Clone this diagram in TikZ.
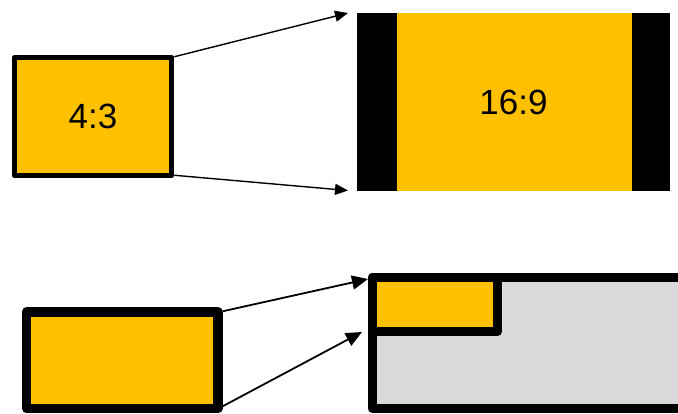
\documentclass[tikz,border=0pt]{standalone}
\usepackage{fontspec}
\setmainfont{Liberation Sans}
\usetikzlibrary{arrows.meta}
\definecolor{screen}{HTML}{FFC000}
\definecolor{pane}{HTML}{D9D9D9}

\begin{document}
\begin{tikzpicture}[x=1pt, y=-1pt,
	box/.style={draw=black, fill=screen, line join=round, inner sep=0pt, font=\fontsize{35}{40}\selectfont},
	ray/.style={line width=1.4pt, -{Triangle[length=13pt,width=11pt]}},
	bigray/.style={line width=1.8pt, -{Triangle[length=16pt,width=14pt]}}]
	\clip (0,0) rectangle (678,413);
	% top: 4:3 shown on a 16:9 screen
	\node[box, line width=5.5pt, minimum width=157pt, minimum height=118pt] (old) at (93,116.5) {4:3};
	\node[box, draw=none, minimum width=313pt, minimum height=178pt] (wide) at (513.5,102) {16:9};
	\node[fill=black, inner sep=0pt, outer sep=0pt, minimum width=40pt, minimum height=178pt, anchor=north west] (barl) at (wide.north west) {};
	\node[fill=black, inner sep=0pt, outer sep=0pt, minimum width=38pt, minimum height=178pt, anchor=north east] (barr) at (wide.north east) {};
	\coordinate (tup) at (348,13);
	\coordinate (tdown) at (348,190.5);
	\draw[ray] ([yshift=-2pt]old.north east) -- (tup);
	\draw[ray] ([yshift=3pt]old.south east) -- (tdown);
	% bottom: strip placed in the corner of a larger pane
	\node[box, line width=9.5pt, minimum width=191.5pt, minimum height=96.5pt] (strip) at (122.25,360.25) {};
	\draw[fill=pane, line width=9.5pt, line join=round] (372.5,277.5) rectangle (720,408.5);
	\node[box, line width=9.5pt, minimum width=125pt, minimum height=54pt, anchor=north west] (corner) at (367.75,272.75) {};
	\coordinate (bup) at (368,279);
	\coordinate (bdown) at (362,332);
	\draw[bigray] ([yshift=-4pt]strip.north east) -- (bup);
	\draw[bigray] ([yshift=7pt]strip.south east) -- (bdown);
\end{tikzpicture}
\end{document}
